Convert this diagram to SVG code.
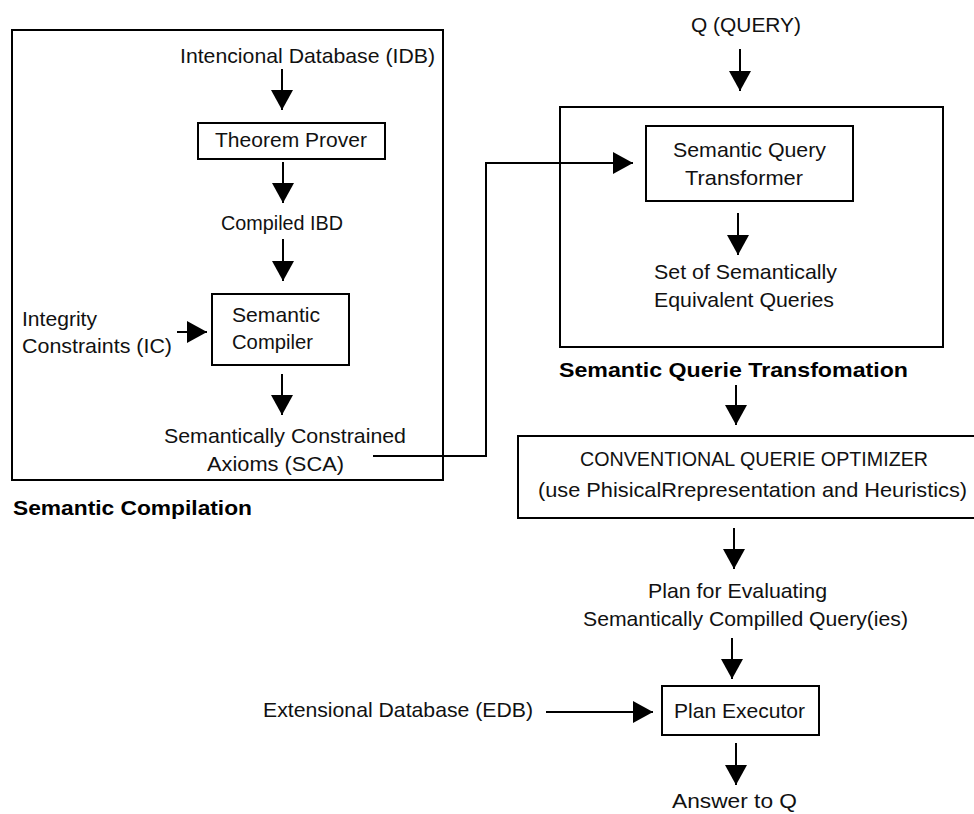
<svg xmlns="http://www.w3.org/2000/svg" width="974" height="814" viewBox="0 0 974 814">
  <style>
    .box { fill: none; stroke: #000; stroke-width: 2; }
    .t { font-family: "Liberation Sans", Arial, sans-serif; font-size: 21px; fill: #111; }
    .b { font-family: "Liberation Sans", Arial, sans-serif; font-size: 21px; font-weight: bold; fill: #000; }
    .c { fill: none; stroke: #000; stroke-width: 2; marker-end: url(#head); }
  </style>
  <defs>
    <marker id="head" viewBox="0 0 20 22" refX="20" refY="11" markerWidth="20" markerHeight="22" markerUnits="userSpaceOnUse" orient="auto">
      <path d="M0,0 L20,11 L0,22 Z" fill="#000"/>
    </marker>
  </defs>
  <rect width="974" height="814" fill="#fff"/>

  <!-- Semantic compilation group -->
  <g id="compilation-frame">
    <rect class="box" x="12" y="30" width="431" height="450"/>
    <text class="b" x="13" y="515" textLength="239" lengthAdjust="spacingAndGlyphs">Semantic Compilation</text>
  </g>
  <g id="idb">
    <text class="t" x="180" y="63" textLength="255" lengthAdjust="spacingAndGlyphs">Intencional Database (IDB)</text>
  </g>
  <g id="theorem-prover">
    <rect class="box" x="198" y="123" width="187" height="36"/>
    <text class="t" x="215" y="147" textLength="152" lengthAdjust="spacingAndGlyphs">Theorem Prover</text>
  </g>
  <g id="compiled-idb">
    <text class="t" x="221" y="230" textLength="122" lengthAdjust="spacingAndGlyphs">Compiled IBD</text>
  </g>
  <g id="integrity-constraints">
    <text class="t" x="22" y="326" textLength="75" lengthAdjust="spacingAndGlyphs">Integrity</text>
    <text class="t" x="22" y="353" textLength="150" lengthAdjust="spacingAndGlyphs">Constraints (IC)</text>
  </g>
  <g id="semantic-compiler">
    <rect class="box" x="212" y="294" width="137" height="71"/>
    <text class="t" x="232" y="322" textLength="88" lengthAdjust="spacingAndGlyphs">Semantic</text>
    <text class="t" x="232" y="349" textLength="81" lengthAdjust="spacingAndGlyphs">Compiler</text>
  </g>
  <g id="sca">
    <text class="t" x="164" y="443" textLength="242" lengthAdjust="spacingAndGlyphs">Semantically Constrained</text>
    <text class="t" x="207" y="471" textLength="137" lengthAdjust="spacingAndGlyphs">Axioms (SCA)</text>
  </g>

  <!-- Semantic query transformation group -->
  <g id="query">
    <text class="t" x="691" y="32" textLength="110" lengthAdjust="spacingAndGlyphs">Q (QUERY)</text>
  </g>
  <g id="transformation-frame">
    <rect class="box" x="560" y="107" width="383" height="240"/>
    <text class="b" x="559" y="377" textLength="349" lengthAdjust="spacingAndGlyphs">Semantic Querie Transfomation</text>
  </g>
  <g id="query-transformer">
    <rect class="box" x="646" y="126" width="207" height="75"/>
    <text class="t" x="673" y="157" textLength="153" lengthAdjust="spacingAndGlyphs">Semantic Query</text>
    <text class="t" x="685" y="185" textLength="118" lengthAdjust="spacingAndGlyphs">Transformer</text>
  </g>
  <g id="equivalent-queries">
    <text class="t" x="654" y="279" textLength="183" lengthAdjust="spacingAndGlyphs">Set of Semantically</text>
    <text class="t" x="654" y="307" textLength="180" lengthAdjust="spacingAndGlyphs">Equivalent Queries</text>
  </g>
  <g id="optimizer">
    <rect class="box" x="518" y="436" width="460" height="82"/>
    <text class="t" x="580" y="466" textLength="348" lengthAdjust="spacingAndGlyphs">CONVENTIONAL QUERIE OPTIMIZER</text>
    <text class="t" x="538" y="497" textLength="429" lengthAdjust="spacingAndGlyphs">(use PhisicalRrepresentation and Heuristics)</text>
  </g>
  <g id="plan">
    <text class="t" x="648" y="598" textLength="179" lengthAdjust="spacingAndGlyphs">Plan for Evaluating</text>
    <text class="t" x="583" y="626" textLength="325" lengthAdjust="spacingAndGlyphs">Semantically Compilled Query(ies)</text>
  </g>
  <g id="edb">
    <text class="t" x="263" y="717" textLength="270" lengthAdjust="spacingAndGlyphs">Extensional Database (EDB)</text>
  </g>
  <g id="plan-executor">
    <rect class="box" x="662" y="686" width="157" height="49"/>
    <text class="t" x="674" y="718" textLength="131" lengthAdjust="spacingAndGlyphs">Plan Executor</text>
  </g>
  <g id="answer">
    <text class="t" x="672" y="808" textLength="125" lengthAdjust="spacingAndGlyphs">Answer to Q</text>
  </g>

  <!-- Connectors -->
  <g id="connectors">
    <path class="c" d="M282,69 V110"/>
    <path class="c" d="M283,162 V203"/>
    <path class="c" d="M283,239 V281"/>
    <path class="c" d="M177,332 H207"/>
    <path class="c" d="M282,374 V415"/>
    <path class="c" d="M373,456 H486 V163 H633"/>
    <path class="c" d="M740,49 V91"/>
    <path class="c" d="M738,213 V255"/>
    <path class="c" d="M736,385 V425"/>
    <path class="c" d="M734,528 V569"/>
    <path class="c" d="M732,638 V679"/>
    <path class="c" d="M546,712 H653"/>
    <path class="c" d="M736,743 V785"/>
  </g>
</svg>
